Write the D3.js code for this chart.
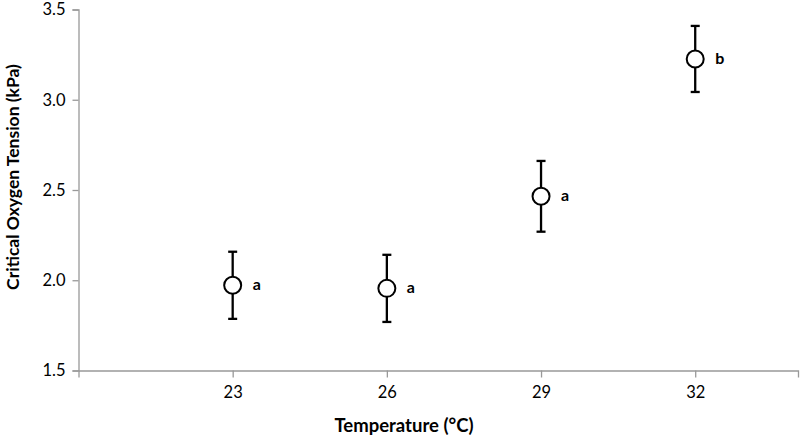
<!DOCTYPE html>
<html>
<head>
<meta charset="utf-8">
<script src="https://cdn.jsdelivr.net/npm/d3@7"></script>
<style>
  body { margin: 0; background: #fff; }
  text { font-family: Lato, "Open Sans", sans-serif; }
</style>
</head>
<body>
<svg id="chart" width="800" height="438"></svg>
<script>
// data
var temps = [23, 26, 29, 32];
var pcrit = [1.972, 1.955, 2.465, 3.226];
var errs = [0.186, 0.186, 0.196, 0.183];
var letters = ["a", "a", "a", "b"];
var yTicks = [1.5, 2.0, 2.5, 3.0, 3.5];

var margin = {left: 78.5, top: 9.5, right: 2, bottom: 68};
var W = 800, H = 438;

var svg = d3.select("#chart");

var x = d3.scaleLinear().domain([20, 34]).range([margin.left, 798]);
var y = d3.scaleLinear().domain([1.5, 3.5]).range([370.5, margin.top]);

// y axis
var yAxis = svg.append("g")
    .attr("transform", "translate(" + margin.left + ",0)")
    .call(d3.axisLeft(y).tickValues(yTicks).tickSize(6).tickPadding(7)
        .tickFormat(d3.format(".1f")));
// x axis
var xAxis = svg.append("g")
    .attr("transform", "translate(0," + y(1.5) + ")")
    .call(d3.axisBottom(x).tickValues(temps).tickSize(7).tickPadding(9));

[xAxis, yAxis].forEach(function(g){
    g.select(".domain").attr("stroke", "#999").attr("stroke-width", 1.3);
    g.selectAll(".tick line").attr("stroke", "#999").attr("stroke-width", 1.3);
    g.selectAll(".tick text").attr("fill", "#000").style("font-size", "16.5px")
        .style("font-family", "Lato, 'Open Sans', sans-serif");
});

// axis titles
svg.append("text")
    .attr("x", 404).attr("y", 432)
    .attr("text-anchor", "middle")
    .style("font-size", "18.5px").style("font-weight", "bold")
    .text("Temperature (°C)");

svg.append("text")
    .attr("transform", "translate(19," + 177 + ") rotate(-90)")
    .attr("text-anchor", "middle")
    .style("font-size", "17.5px").style("font-weight", "bold")
    .text("Critical Oxygen Tension (kPa)");

var pts = temps.map(function(t, i){
    return {t: t, v: pcrit[i], e: errs[i], lab: letters[i]};
});

var grp = svg.append("g").selectAll("g").data(pts).enter().append("g");

// error bars
grp.append("line")
    .attr("x1", function(d){ return x(d.t); })
    .attr("x2", function(d){ return x(d.t); })
    .attr("y1", function(d){ return y(d.v + d.e); })
    .attr("y2", function(d){ return y(d.v - d.e); })
    .attr("stroke", "#000").attr("stroke-width", 2.3);
grp.append("line")
    .attr("x1", function(d){ return x(d.t) - 4.5; })
    .attr("x2", function(d){ return x(d.t) + 4.5; })
    .attr("y1", function(d){ return y(d.v + d.e); })
    .attr("y2", function(d){ return y(d.v + d.e); })
    .attr("stroke", "#000").attr("stroke-width", 2.3);
grp.append("line")
    .attr("x1", function(d){ return x(d.t) - 4.5; })
    .attr("x2", function(d){ return x(d.t) + 4.5; })
    .attr("y1", function(d){ return y(d.v - d.e); })
    .attr("y2", function(d){ return y(d.v - d.e); })
    .attr("stroke", "#000").attr("stroke-width", 2.3);

// markers
grp.append("circle")
    .attr("cx", function(d){ return x(d.t); })
    .attr("cy", function(d){ return y(d.v); })
    .attr("r", 8.5)
    .attr("fill", "#fff").attr("stroke", "#000").attr("stroke-width", 2);

// significance letters
grp.append("text")
    .attr("x", function(d){ return x(d.t) + 20; })
    .attr("y", function(d){ return y(d.v) + 5; })
    .style("font-size", "16px").style("font-weight", "bold")
    .text(function(d){ return d.lab; });
</script>
</body>
</html>
